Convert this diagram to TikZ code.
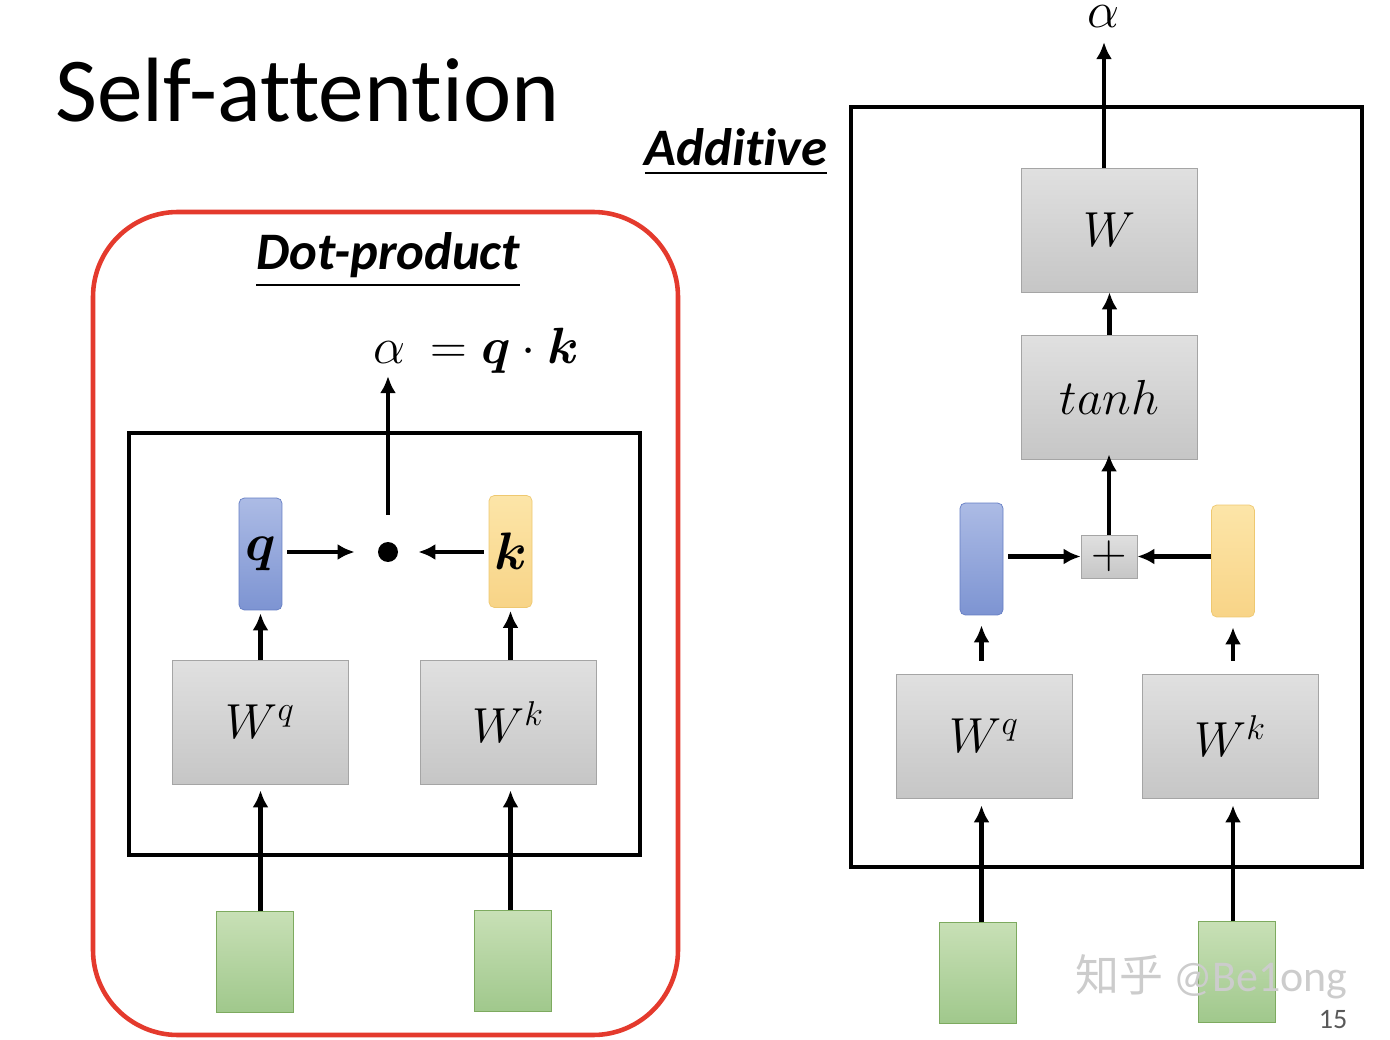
\RequirePackage{fix-cm}
\documentclass[tikz,border=0pt]{standalone}
\usepackage{amsmath,amssymb,bm}
\usepackage[no-math]{fontspec}
\setmainfont{Carlito}[Ligatures=NoCommon]
\newfontfamily\cjk{Noto Sans CJK SC}
\usepackage{xcolor}
\usetikzlibrary{positioning,arrows.meta,calc}

\definecolor{redline}{RGB}{228,58,45}
\definecolor{qtop}{RGB}{172,187,229}
\definecolor{qbot}{RGB}{125,148,210}
\definecolor{qline}{RGB}{100,125,195}
\definecolor{ktop}{RGB}{252,229,168}
\definecolor{kbot}{RGB}{248,212,135}
\definecolor{kline}{RGB}{238,200,112}
\definecolor{gtop}{RGB}{200,224,182}
\definecolor{gbot}{RGB}{160,200,140}
\definecolor{gline}{RGB}{125,170,95}
\definecolor{wtop}{RGB}{224,224,224}
\definecolor{wbot}{RGB}{198,198,198}
\definecolor{wline}{RGB}{165,165,165}

\begin{document}
\begin{tikzpicture}[
  x=0.02cm, y=-0.02cm,
  >={Latex[length=0.34cm,width=0.32cm]},
  arr/.style={->, line width=2.4pt},
  boxline/.style={line width=2.8pt},
  wbox/.style={draw=wline, top color=wtop, bottom color=wbot, inner sep=0pt,
    minimum width=3.52cm, minimum height=2.48cm, font=\fontsize{28}{32}\selectfont},
  vec/.style={rounded corners=3pt, inner sep=0pt, minimum width=0.86cm,
    minimum height=2.24cm, font=\fontsize{30}{34}\selectfont},
  qvec/.style={vec, draw=qline, top color=qtop, bottom color=qbot},
  kvec/.style={vec, draw=kline, top color=ktop, bottom color=kbot},
  inp/.style={draw=gline, top color=gtop, bottom color=gbot,
    minimum width=1.54cm, minimum height=2.02cm},
  head/.style={inner sep=0pt, font=\fontsize{30}{34}\selectfont\bfseries\itshape},
  eq/.style={inner sep=1pt, font=\fontsize{29}{33}\selectfont}
]
\useasboundingbox (0,0) rectangle (1390,1040);

% title and headings
\node[anchor=base west, inner sep=0pt, font=\fontsize{52}{60}\selectfont] (title) at (55,122) {Self-attention};
\node[head] (dotHead) at (388,260) {\underline{Dot-product}};
\node[head] (addHead) at (736,152) {\underline{Additive}};

% dot-product panel
\draw[draw=redline, line width=2.6pt, rounded corners=1.7cm] (93,212) rectangle (678,1035);
\draw[boxline] (129,433) rectangle (640,855);

\node[qvec] (qL) at (260.5,554) {$\boldsymbol{q}$};
\node[kvec] (kL) at (510.5,551.5) {$\boldsymbol{k}$};
\node[circle, fill=black, inner sep=0pt, minimum size=0.4cm] (dot) at (388,552) {};
\node[wbox] (WqL) at (260,722) {$W^q$};
\node[wbox] (WkL) at (508,722) {$W^k$};
\node[inp] (xL1) at (254.5,961.5) {};
\node[inp] (xL2) at (513,961) {};
\node[eq, anchor=base] (alphaL) at (390,364) {$\alpha$};
\node[eq, anchor=base west] (prodL) at ([xshift=0.4cm]alphaL.base east) {$=\boldsymbol{q}\cdot\boldsymbol{k}$};

\draw[arr] (qL |- xL1.north) -- ([yshift=-0.12cm]qL |- WqL.south);
\draw[arr] (kL |- xL2.north) -- ([yshift=-0.12cm]kL |- WkL.south);
\draw[arr, shorten >=0.06cm] (qL.south |- WqL.north) -- (qL.south);
\draw[arr, shorten >=0.06cm] (kL.south |- WkL.north) -- (kL.south);
\draw[arr, shorten <=0.1cm, shorten >=0.46cm] (qL.east |- dot) -- (dot);
\draw[arr, shorten <=0.1cm, shorten >=0.4cm] (kL.west |- dot) -- (dot);
\draw[arr, shorten <=0.54cm, shorten >=0.2cm] (dot.north) -- (dot.north |- alphaL.south);

% additive panel
\draw[boxline] (851,107) rectangle (1362,867);

\node[wbox] (W) at (1109.5,230) {$W$};
\node[wbox] (tanhR) at (1109.5,397) {$tanh$};
\node[wbox, minimum width=1.12cm, minimum height=0.86cm] (plus) at (1109,556.5) {$+$};
\node[qvec] (qR) at (981.5,559) {};
\node[kvec] (kR) at (1233,561) {};
\node[wbox] (WqR) at (984,736) {$W^q$};
\node[wbox] (WkR) at (1230,736) {$W^k$};
\node[inp] (xR1) at (977.5,972.5) {};
\node[inp] (xR2) at (1236.5,972) {};
\node[eq, anchor=base] (alphaR) at (1104,28) {$\alpha$};

\draw[arr] (qR |- xR1.north) -- ([yshift=-0.14cm]qR |- WqR.south);
\draw[arr] (kR |- xR2.north) -- ([yshift=-0.14cm]kR |- WkR.south);
\draw[arr, shorten <=0.26cm, shorten >=0.2cm] (qR.south |- WqR.north) -- (qR.south);
\draw[arr, shorten <=0.26cm, shorten >=0.2cm] (kR.south |- WkR.north) -- (kR.south);
\draw[arr, shorten <=0.1cm] (qR.east |- plus) -- (plus.west);
\draw[arr] (kR.west |- plus) -- (plus.east);
\draw[arr, shorten >=-0.1cm] (plus.north) -- (plus.north |- tanhR.south);
\draw[arr] (tanhR.north) -- (tanhR.north |- W.south);
\draw[arr, shorten >=0.24cm] (W.north -| alphaR) -- (alphaR.south);

% watermark and page number
\node[anchor=west, inner sep=0pt, text=gray!40, font=\fontsize{25}{28}\selectfont] (mark) at (1075,977) {{\cjk 知乎} @Be1ong};
\node[inner sep=0pt, text=black!65, font=\fontsize{16}{18}\selectfont] (page) at (1333,1020) {15};
\end{tikzpicture}
\end{document}
